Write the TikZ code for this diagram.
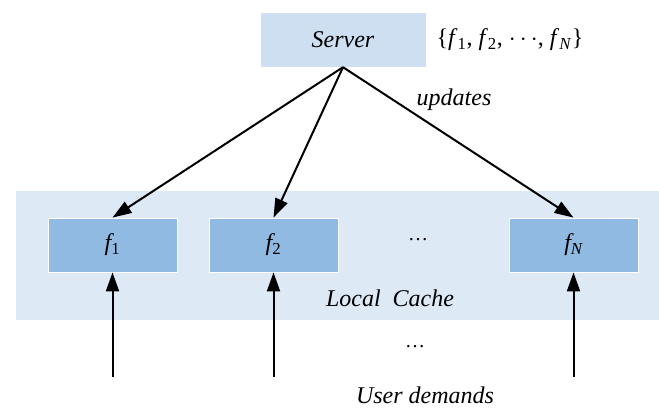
\documentclass[tikz,border=0pt]{standalone}
\usepackage{fontspec}
\setmainfont{Liberation Serif}
\usepackage{tikz}
\usetikzlibrary{arrows.meta}

\definecolor{serverblue}{RGB}{205,223,241}
\definecolor{cacheblue}{RGB}{222,233,246}
\definecolor{fileblue}{RGB}{144,186,226}

\begin{document}
\begin{tikzpicture}[x=1pt,y=-1pt,
  every node/.style={font=\rmfamily\fontsize{24}{28}\selectfont\itshape},
  filebox/.style={rectangle,fill=fileblue,draw=white,line width=0.8pt,minimum width=129pt,minimum height=54pt,inner sep=0pt},
  arr/.style={line width=2pt,-{Triangle[length=19pt,width=13pt]}}]

%\draw[help lines,step=10] (0,0) grid (659,409);
\useasboundingbox (0,0) rectangle (659,409);

% local cache
\node[rectangle,fill=cacheblue,draw=white,minimum width=644pt,minimum height=130pt,inner sep=0pt] (cache) at (337,255) {};
\node (cachelabel) at (390,298) {Local\ \ Cache};

% server
\node[rectangle,fill=serverblue,draw=white,minimum width=166pt,minimum height=55pt,inner sep=0pt] (server) at (343,39.5) {Server};
\node[font=\rmfamily\fontsize{24}{28}\selectfont] (set) at (510,40) {\{\textit{f}\textsubscript{1}, \textit{f}\textsubscript{2}, $\cdots$, \textit{f}\textsubscript{\textit{N}}\}};

% cached files
\node[filebox] (f1) at (112.5,245) {f\textsubscript{\upshape 1}};
\node[filebox] (f2) at (273.5,245) {f\textsubscript{\upshape 2}};
\node[filebox] (fN) at (573.5,245) {f\textsubscript{N}};
\node[font=\rmfamily\fontsize{20}{24}\selectfont] (dots1) at (418,240) {\ldots};

\draw[arr] (server.south) -- (f1.north);
\draw[arr] (server.south) -- (f2.north);
\draw[arr] (server.south) -- (fN.north);
\node (upd) at (454,100) {updates};

% user demands
\coordinate (u1) at (112.5,377);
\coordinate (u2) at (273.5,377);
\coordinate (uN) at (573.5,377);
\draw[arr] (u1) -- (f1.south);
\draw[arr] (u2) -- (f2.south);
\draw[arr] (uN) -- (fN.south);
\node[font=\rmfamily\fontsize{20}{24}\selectfont] (dots2) at (415,347) {\ldots};
\node[inner sep=1pt] (users) at (425,395) {User demands};

\end{tikzpicture}
\end{document}
